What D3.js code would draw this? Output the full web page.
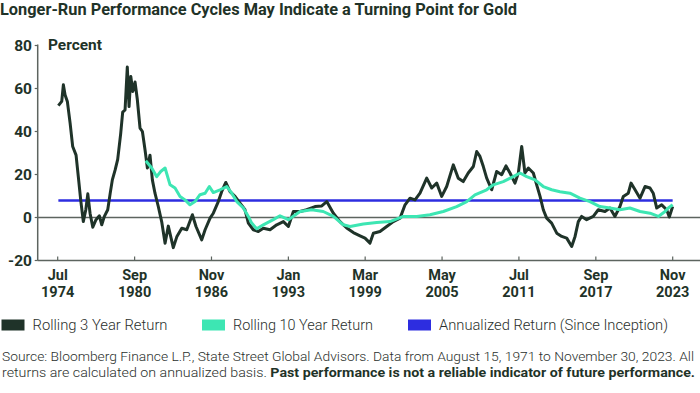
<!DOCTYPE html>
<html>
<head>
<meta charset="utf-8">
<script src="https://cdn.jsdelivr.net/npm/d3@7/dist/d3.min.js"></script>
<style>
  body { margin: 0; background: #fff; }
  svg { display: block; font-family: Roboto, "Liberation Sans", sans-serif; }
</style>
</head>
<body>
<div id="chart"></div>
<script>
//Datos (año decimal, % anualizado)
const years3 = [1974.55,1974.82,1974.95,1975.09,1975.27,1975.49,1975.70,1975.97,1976.15,1976.34,1976.55,1976.75,1976.91,1977.09,1977.31,1977.57,1977.84,1978.03,1978.24,1978.51,1978.70,1978.88,1979.10,1979.31,1979.55,1979.71,1979.90,1980.08,1980.22,1980.36,1980.52,1980.70,1980.88,1981.10,1981.29,1981.50,1981.69,1981.90,1982.09,1982.30,1982.57,1982.84,1983.11,1983.37,1983.77,1984.05,1984.45,1984.85,1985.30,1985.59,1986.05,1986.32,1986.72,1986.98,1987.38,1987.65,1987.98,1988.32,1988.72,1989.12,1989.52,1989.79,1990.19,1990.59,1990.99,1991.53,1992.07,1992.60,1993.00,1993.40,1993.94,1994.47,1995.14,1995.68,1996.08,1996.61,1997.14,1997.68,1998.21,1998.75,1999.15,1999.55,1999.82,2000.35,2000.89,2001.42,2001.96,2002.36,2002.76,2003.16,2003.56,2004.10,2004.50,2004.90,2005.30,2005.70,2006.23,2006.63,2007.03,2007.43,2007.84,2008.11,2008.37,2008.64,2008.91,2009.31,2009.71,2010.11,2010.46,2010.78,2011.18,2011.45,2011.72,2011.98,2012.25,2012.65,2012.92,2013.19,2013.45,2013.72,2014.12,2014.53,2014.93,2015.33,2015.73,2016.00,2016.26,2016.53,2016.93,2017.46,2017.86,2018.40,2018.80,2019.20,2019.60,2019.87,2020.27,2020.49,2020.81,2021.21,2021.61,2022.01,2022.27,2022.55,2022.95,2023.35,2023.56,2023.83];
const rolling3 = [52,54,61.7,57,54,44,33,29,19,8.2,-1.9,3.6,11,2,-4.5,-1,0.8,-3.4,0.5,3.6,11,17.5,22,27,39,49,50,70,51.6,65.6,58.6,63,55,41.6,40,31.5,23,29,17.5,11.3,5,-2,-12,-4,-14,-9,-5,-5.7,1.3,-4.2,-10.4,-5.7,-0.3,2,7.4,12,16.3,12,9.8,6.7,3.6,-2.6,-5.7,-6.5,-5,-5.7,-3.4,-1.9,-4.2,2.8,2.8,3.6,5.1,5.4,7.4,2,-1.9,-4.9,-7,-8.5,-9.6,-11.9,-7.3,-6.5,-4.2,-1.9,-0.3,5.9,9,8.2,11.3,18.3,13.7,16,9.8,14.4,24.5,18.3,16.7,20.7,23.7,30.7,28.4,23.7,18.3,12.9,21.4,19.9,24,20.7,16,20.7,33,20.7,23,20.7,15.2,9.8,3.6,-0.3,-2.6,-7.3,-8.8,-9.6,-13.5,-8.8,-1.9,0.5,-1,0.5,3.6,2.8,4.4,0.5,5.1,9.8,11.3,16,12.9,9,14.4,13.7,11.3,4.4,5.9,3.6,0.2,5.1];

const years10 = [1981.56,1982.04,1982.44,1982.76,1983.11,1983.51,1983.91,1984.31,1984.71,1985.11,1985.51,1985.91,1986.32,1986.66,1986.98,1987.52,1988.06,1988.46,1988.86,1989.39,1989.79,1990.06,1990.46,1990.99,1991.79,1992.33,1993.00,1993.94,1994.87,1995.80,1996.61,1997.41,1997.95,1999.01,2000.09,2001.15,2002.22,2003.30,2004.36,2005.43,2006.50,2007.31,2007.97,2008.91,2009.44,2010.24,2011.04,2011.58,2012.12,2012.79,2013.45,2014.12,2014.79,2015.59,2016.39,2017.19,2017.99,2018.80,2019.60,2020.40,2021.21,2022.01,2022.68,2023.22,2023.48,2023.83];
const rolling10 = [26.4,23,19,21.4,23,15.2,13.7,9.8,8.2,5.9,7.4,10.6,11.3,14.4,11.6,12.9,14.4,11.3,7.4,4.4,0.5,-2.6,-5.2,-3.4,-1,0.8,-1,2.8,3.6,2.8,0.5,-3.4,-4.2,-3,-2.3,-1.9,0.5,0.5,1.3,2.8,5.1,7.4,10.5,12.9,15.2,16.7,19,20.7,19,17.5,14.4,12.9,12,11.3,9,7.4,5.1,4.4,3.6,4.4,2.8,2,0.5,2.8,4.4,5.9];

const annualizedReturn = 7.9;
const annualizedSpan = [1974.55, 2023.83];

const tickDates = ['1974-07','1980-09','1986-11','1993-01','1999-03','2005-05','2011-07','2017-09','2023-11'];
const yTicks = [80, 60, 40, 20, 0, -20];

const legendLabels = ['Rolling 3 Year Return', 'Rolling 10 Year Return', 'Annualized Return (Since Inception)'];

//Colores
const COLOR_TEXT = '#1f3328',
  COLOR_3Y = '#1f3329',
  COLOR_10Y = '#3de6b3',
  COLOR_ANN = '#2d2de0',
  COLOR_AXIS = '#5d645f';

function yearToDate(y) {
  let yr = Math.floor(y);
  let start = new Date(yr, 0, 1), end = new Date(yr + 1, 0, 1);
  return new Date(start.getTime() + (y - yr) * (end - start));
}
const parseMonth = d3.timeParse('%Y-%m');

const W = 700, H = 393;
const svg = d3.select('#chart').append('svg').attr('width', W).attr('height', H);

function fitText(sel, w) {
  sel.attr('textLength', w).attr('lengthAdjust', 'spacingAndGlyphs');
}

//Título
svg.append('text')
  .attr('x', 0).attr('y', 14.5)
  .attr('fill', COLOR_TEXT)
  .attr('font-size', 16).attr('font-weight', 700)
  .text('Longer-Run Performance Cycles May Indicate a Turning Point for Gold')
  .call(fitText, 517);

//Escalas
const ticksParsed = tickDates.map(parseMonth);
const x = d3.scaleTime()
  .domain([ticksParsed[0], ticksParsed[ticksParsed.length - 1]])
  .range([57.7, 672.7]);
const y = d3.scaleLinear().domain([-20, 80]).range([260.5, 45.5]);

const axisLeftX = 37.7;

//Eje Y
const gy = svg.append('g');
gy.append('line')
  .attr('x1', axisLeftX).attr('x2', axisLeftX)
  .attr('y1', y(80) - 1).attr('y2', y(-20))
  .attr('stroke', COLOR_AXIS).attr('stroke-width', 1.5);
gy.selectAll('.tk').data(yTicks).enter().append('line')
  .attr('x1', axisLeftX - 3).attr('x2', axisLeftX)
  .attr('y1', d => y(d)).attr('y2', d => y(d))
  .attr('stroke', COLOR_AXIS).attr('stroke-width', 1.2);
gy.selectAll('.lbl').data(yTicks).enter().append('text')
  .attr('x', 32).attr('y', d => y(d) + 5.5)
  .attr('text-anchor', 'end')
  .attr('fill', COLOR_TEXT).attr('font-size', 15.5).attr('font-weight', 700)
  .text(d => d);
svg.append('text')
  .attr('x', 48).attr('y', 50)
  .attr('fill', COLOR_TEXT).attr('font-size', 14).attr('font-weight', 700)
  .text('Percent')
  .call(fitText, 54);

//Línea del cero
svg.append('line')
  .attr('x1', axisLeftX).attr('x2', W)
  .attr('y1', y(0)).attr('y2', y(0))
  .attr('stroke', COLOR_AXIS).attr('stroke-width', 1.5);

//Eje X
const gx = svg.append('g');
gx.append('line')
  .attr('x1', axisLeftX).attr('x2', W)
  .attr('y1', y(-20)).attr('y2', y(-20))
  .attr('stroke', COLOR_AXIS).attr('stroke-width', 1.5);
gx.selectAll('.tk').data(ticksParsed).enter().append('line')
  .attr('x1', d => x(d)).attr('x2', d => x(d))
  .attr('y1', y(-20) - 4).attr('y2', y(-20))
  .attr('stroke', COLOR_AXIS).attr('stroke-width', 1.2);
const fmtMon = d3.timeFormat('%b'), fmtYr = d3.timeFormat('%Y');
const lbls = gx.selectAll('.lbl').data(ticksParsed).enter().append('text')
  .attr('text-anchor', 'middle')
  .attr('fill', COLOR_TEXT).attr('font-size', 14.5).attr('font-weight', 700);
lbls.append('tspan').attr('x', d => x(d)).attr('y', 279.5).text(fmtMon);
lbls.append('tspan').attr('x', d => x(d)).attr('y', 297).text(fmtYr);

//Series
const line = d3.line()
  .x(d => x(d.date))
  .y(d => y(d.value));

const s3 = years3.map((yr, i) => ({ date: yearToDate(yr), value: rolling3[i] }));
const s10 = years10.map((yr, i) => ({ date: yearToDate(yr), value: rolling10[i] }));
const sAnn = annualizedSpan.map(yr => ({ date: yearToDate(yr), value: annualizedReturn }));

svg.append('path').datum(sAnn)
  .attr('d', line).attr('fill', 'none')
  .attr('stroke', COLOR_ANN).attr('stroke-width', 2.6);
svg.append('path').datum(s3)
  .attr('d', line).attr('fill', 'none')
  .attr('stroke', COLOR_3Y).attr('stroke-width', 3)
  .attr('stroke-linejoin', 'round');
svg.append('path').datum(s10)
  .attr('d', line).attr('fill', 'none')
  .attr('stroke', COLOR_10Y).attr('stroke-width', 3)
  .attr('stroke-linejoin', 'round');

//Leyenda
const legendColors = [COLOR_3Y, COLOR_10Y, COLOR_ANN];
const legendX = [1.5, 202, 408];
const legendW = [135, 140, 229];
const lg = svg.append('g');
legendLabels.forEach(function(lbl, i) {
  lg.append('rect')
    .attr('x', legendX[i]).attr('y', 319.5)
    .attr('width', 23).attr('height', 11)
    .attr('fill', legendColors[i]);
  lg.append('text')
    .attr('x', legendX[i] + 31).attr('y', 330)
    .attr('fill', '#2a2f2c').attr('font-size', 15).attr('font-weight', 300)
    .text(lbl)
    .call(fitText, legendW[i]);
});

//Fuente
svg.append('text')
  .attr('x', 2).attr('y', 360.7)
  .attr('fill', '#2a2f2c').attr('font-size', 13.2).attr('font-weight', 300)
  .text('Source: Bloomberg Finance L.P., State Street Global Advisors. Data from August 15, 1971 to November 30, 2023. All')
  .call(fitText, 692);
const src2 = svg.append('text')
  .attr('x', 2).attr('y', 376.7)
  .attr('fill', '#2a2f2c').attr('font-size', 13.2).attr('font-weight', 300);
src2.append('tspan').text('returns are calculated on annualized basis. ');
src2.append('tspan').attr('font-weight', 700).attr('fill', COLOR_TEXT)
  .text('Past performance is not a reliable indicator of future performance.');
src2.call(fitText, 693);
</script>
</body>
</html>
